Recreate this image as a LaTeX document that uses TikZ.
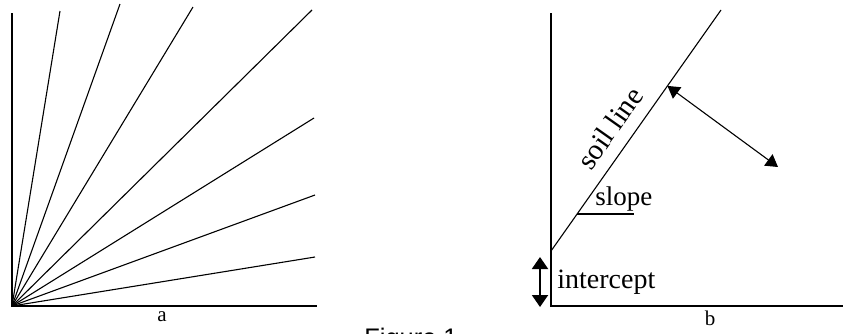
\documentclass[tikz,border=0pt]{standalone}
\usepackage{fontspec}
\setmainfont{Liberation Serif}
\newfontfamily\figfont{Liberation Sans}
\usetikzlibrary{arrows.meta,calc}

\begin{document}
\begin{tikzpicture}[x=.5pt,y=-.5pt,axis/.style={line width=1pt},ray/.style={line width=.55pt},lbl/.style={inner sep=0pt,font=\fontsize{13.5}{16}\selectfont},sub/.style={inner sep=0pt,font=\fontsize{10.5}{12}\selectfont}]
\useasboundingbox(0,0)rectangle(844,333);
% a: family of lines through the origin
\coordinate(oa)at(12,306);\coordinate(ya)at(12,13);\coordinate(xa)at(317,306);
\draw[axis](ya)--(oa)--(xa);
\foreach\x/\y[count=\i]in{60/11,120/4,193/7,312/10,314/118,315/195,315/257}{\coordinate(r\i)at(\x,\y);\draw[ray](oa)--(r\i);}
\node[sub,anchor=base](la)at(162,321){a};
% b: soil line
\coordinate(ob)at(551,306);\coordinate(yb)at(551,13);\coordinate(xb)at(843,306);
\draw[axis](yb)--(ob)--(xb);
\coordinate(s0)at(551,251);\coordinate(s1)at(721,10);
\draw[ray](s0)--(s1)node[lbl,pos=.456,sloped,above=6pt,font=\fontsize{14.5}{16}\selectfont]{soil line};
\coordinate(sl0)at($(s0)!.155!(s1)$);\coordinate(sl1)at(634,214);\draw[axis](sl0|-sl1)--(sl1);
\node[lbl,anchor=base west](slope)at(595,205){slope};
\coordinate(tip)at($(s0)!.685!(s1)$);\coordinate(pt)at(778,167);
\draw[ray,{Triangle[length=6pt,width=7pt]}-{Triangle[length=6pt,width=7pt]}](tip)--(pt);
\coordinate(i0)at(540,257);\coordinate(i1)at(540,307);
\draw[axis,{Triangle[length=6pt,width=8pt]}-{Triangle[length=6pt,width=8pt]}](i0)--(i1);
\node[lbl,anchor=base west,font=\fontsize{14}{16}\selectfont](icpt)at(557,288){intercept};
\node[sub,anchor=base](lb)at(710,325){b};
\node[inner sep=0pt,anchor=base,font=\figfont\fontsize{12.7}{15}\selectfont](fig)at(411,346){Figure 1};
\end{tikzpicture}
\end{document}
